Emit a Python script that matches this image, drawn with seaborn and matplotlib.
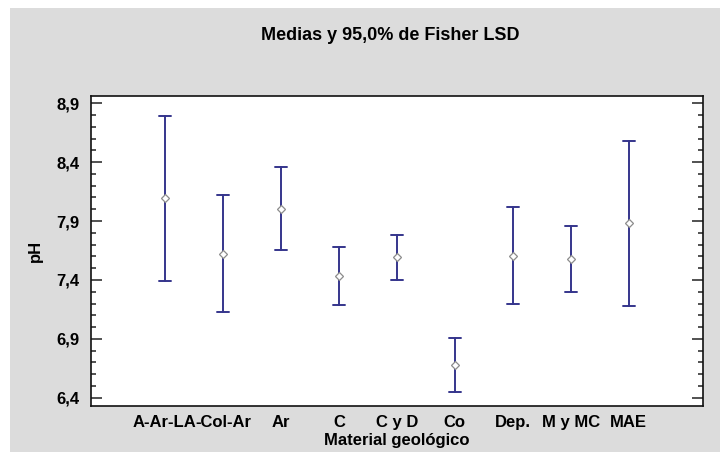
import numpy as np
import pandas as pd
import matplotlib
matplotlib.use("Agg")
import matplotlib.pyplot as plt
from matplotlib.patches import Rectangle
from matplotlib.ticker import FixedLocator, MultipleLocator
import seaborn as sns

# Geological material groups and pH means with Fisher LSD 95% half-widths
materials = ["A-Ar-LA", "-Col-Ar", "Ar", "C", "C y D", "Co", "Dep.", "M y MC", "MAE"]
ph_mean = [8.093, 7.623, 8.003, 7.434, 7.591, 6.678, 7.605, 7.578, 7.880]
lsd_half = [0.701, 0.495, 0.352, 0.248, 0.193, 0.231, 0.410, 0.283, 0.700]

y_ticks = [6.4, 6.9, 7.4, 7.9, 8.4, 8.9]
y_tick_labels = ["6,4", "6,9", "7,4", "7,9", "8,4", "8,9"]

title = "Medias y 95,0% de Fisher LSD"
x_title = "Material geológico"
y_title = "pH"

# Long table: lower and upper limit of every interval; their mean is the group mean
rows = []
for m, mu, h in zip(materials, ph_mean, lsd_half):
    rows.append({"material": m, "pH": mu - h})
    rows.append({"material": m, "pH": mu + h})
df = pd.DataFrame(rows)

sns.set_style("white")
plt.rcParams["font.family"] = ["Liberation Sans", "DejaVu Sans"]
plt.rcParams["font.weight"] = "bold"
plt.rcParams["text.color"] = "black"
plt.rcParams["xtick.color"] = "black"
plt.rcParams["ytick.color"] = "black"
plt.rcParams["axes.labelcolor"] = "black"

fig = plt.figure(figsize=(7.23, 4.62), dpi=100, facecolor="white")
# grey panel behind the chart
fig.add_artist(Rectangle((10 / 723, 1 - 452 / 462), 710 / 723, 444 / 462,
                         transform=fig.transFigure, facecolor="#dcdcdc",
                         edgecolor="none", zorder=-10))
ax = fig.add_axes([90.7 / 723, 1 - 406 / 462, (703 - 90.7) / 723, (406 - 95.7) / 462])
ax.set_zorder(1)
ax.set_facecolor("white")

line_col = "#35358c"
sns.pointplot(data=df, x="material", y="pH", order=materials,
              estimator="mean", errorbar=lambda v: (v.min(), v.max()),
              color=line_col, capsize=0.21, linestyle="none",
              marker="D", markersize=4.5, markerfacecolor="white",
              markeredgecolor="#8c8c8c", markeredgewidth=0.9,
              err_kws={"linewidth": 1.4, "color": line_col, "zorder": 2},
              zorder=4, ax=ax)

ax.set_xlim(-1.28, len(materials) - 1 + 1.28)
ax.set_ylim(6.33, 8.964)
ax.yaxis.set_major_locator(FixedLocator(y_ticks))
ax.set_yticklabels(y_tick_labels)
ax.yaxis.set_minor_locator(MultipleLocator(0.1))

ax.tick_params(axis="y", which="both", direction="in", left=True, right=True,
               color="#333333", width=1.2, labelsize=12, pad=8)
ax.tick_params(axis="y", which="major", length=8)
ax.tick_params(axis="y", which="minor", length=3.8)
ax.tick_params(axis="x", which="both", bottom=False, top=False, labelsize=12, pad=3)

for lab in ax.get_xticklabels() + ax.get_yticklabels():
    lab.set_fontweight("bold")

for s in ax.spines.values():
    s.set_visible(True)
    s.set_color("#111111")
    s.set_linewidth(1.2)

ax.set_xlabel(x_title, fontsize=12, fontweight="bold", labelpad=2)
ax.set_ylabel(y_title, fontsize=12, fontweight="bold", labelpad=10)
fig.text(390 / 723, 1 - 35 / 462, title, ha="center", va="center",
         fontsize=13, fontweight="bold")

fig.savefig("out.png", dpi=100, facecolor="white")
